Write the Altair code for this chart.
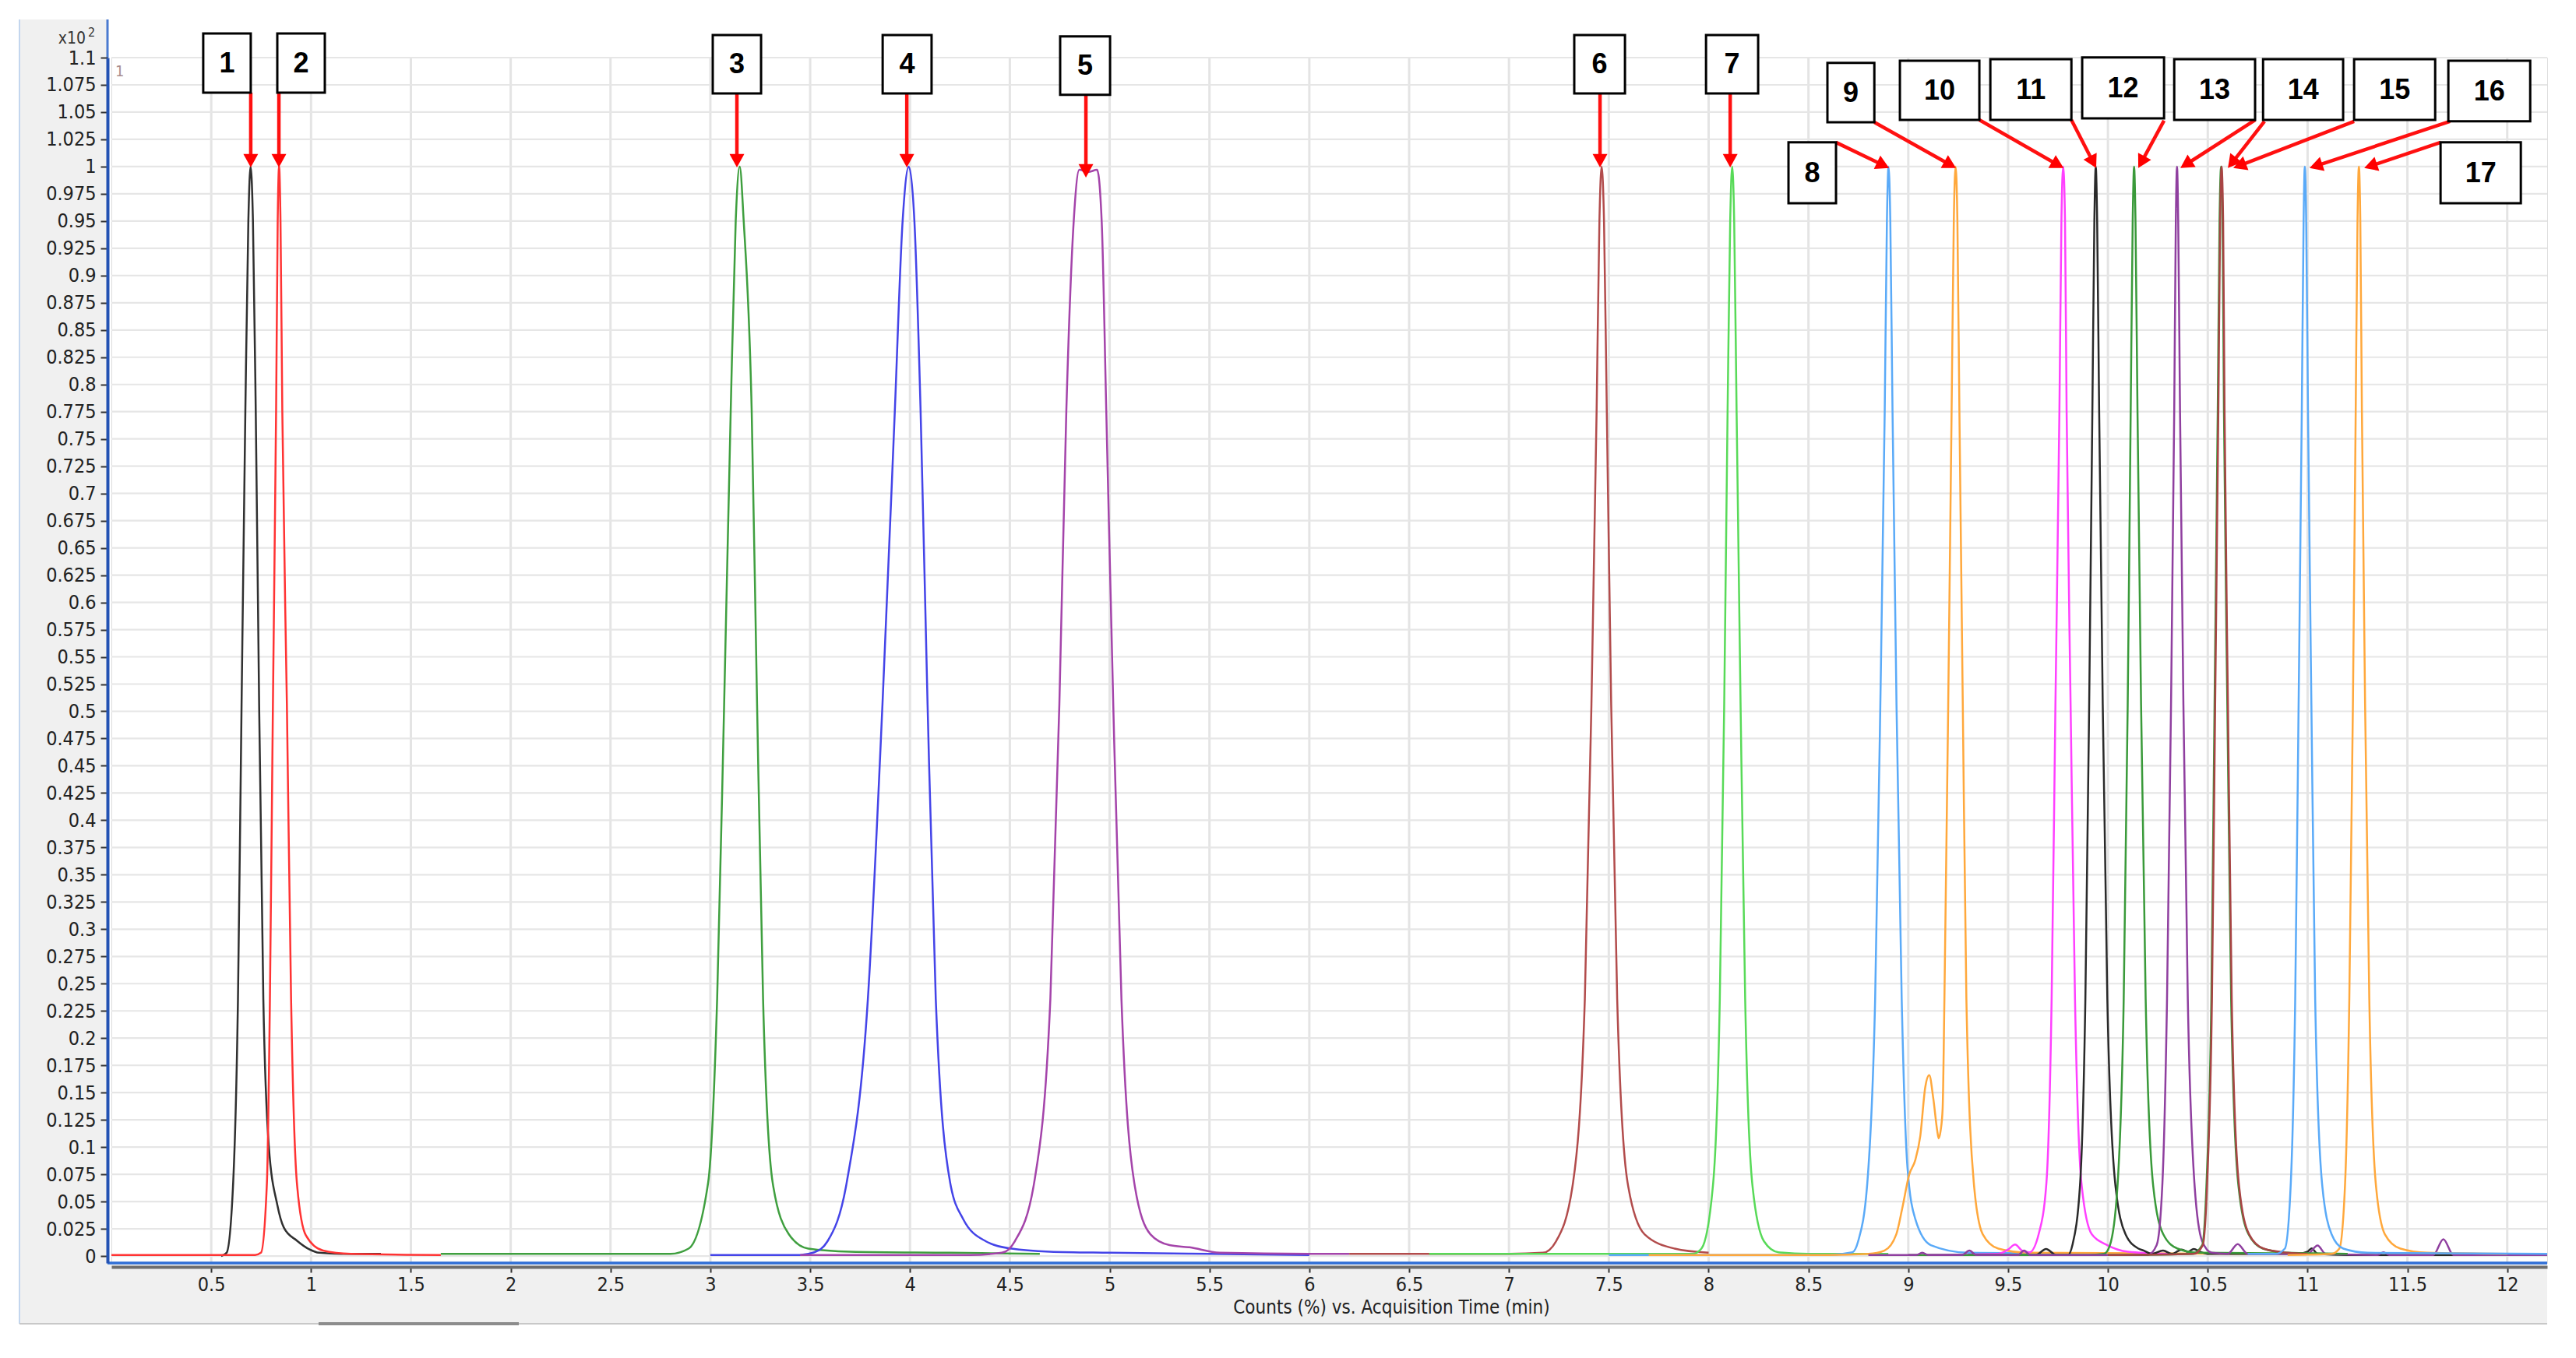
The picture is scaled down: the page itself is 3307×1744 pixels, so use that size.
import math
import altair as alt
import pandas as pd

# ---------------- data ----------------
TRACE_NAMES = ["1", "2", "3", "4", "5", "6", "7", "8", "9", "10", "11", "12", "13", "14", "15", "17", "16"]
TRACE_COLORS = ["#303030", "#ff3333", "#3f9f3f", "#4444e8", "#a444aa", "#b24c4c", "#58da58", "#5aaaf8",
                "#ffa83c", "#ff40ff", "#2a2a2a", "#3a9a3a", "#8f3f9f", "#3a963a", "#a84444", "#ffa83c", "#5aaaf8"]

T1 = [0.55, 0.577, 0.610, 0.634, 0.652, 0.671, 0.686, 0.697, 0.709, 0.723, 0.740, 0.761, 0.788, 0.831, 0.864, 0.93, 0.993, 1.04, 1.15, 1.35]
V1 = [0.0, 0.003, 0.0675, 0.236, 0.506, 0.776, 0.95, 1.0, 0.95, 0.776, 0.506, 0.236, 0.102, 0.047, 0.026, 0.014, 0.006, 0.003, 0.002, 0.002]

T2 = [0.0, 0.72, 0.749, 0.779, 0.794, 0.809, 0.825, 0.833, 0.840, 0.847, 0.856, 0.879, 0.900, 0.929, 0.974, 1.06, 1.2, 1.65]
V2 = [0.001, 0.001, 0.003, 0.0675, 0.236, 0.506, 0.776, 0.95, 1.0, 0.95, 0.776, 0.506, 0.236, 0.0675, 0.019, 0.005, 0.002, 0.001]

T3 = [1.65, 2.4, 2.8, 2.891, 2.989, 3.034, 3.069, 3.102, 3.127, 3.147, 3.167, 3.207, 3.234, 3.264, 3.312, 3.393, 3.49, 3.7, 4.2, 4.65]
V3 = [0.002, 0.002, 0.002, 0.0068, 0.0675, 0.236, 0.506, 0.776, 0.95, 1.0, 0.95, 0.776, 0.506, 0.236, 0.0675, 0.020, 0.0068, 0.004, 0.003, 0.002]

T4 = [3.0, 3.45, 3.52, 3.587, 3.683, 3.789, 3.862, 3.924, 3.963, 3.994, 4.022, 4.053, 4.088, 4.129, 4.201, 4.266, 4.379, 4.509, 4.7, 5.0, 5.5, 6.0]
V4 = [0.001, 0.001, 0.0034, 0.0136, 0.0675, 0.236, 0.506, 0.776, 0.95, 1.0, 0.95, 0.776, 0.506, 0.236, 0.0675, 0.034, 0.0136, 0.0068, 0.004, 0.003, 0.002, 0.001]

T5 = [3.45, 4.3, 4.46, 4.525, 4.622, 4.703, 4.748, 4.783, 4.82, 4.848, 4.892, 4.937, 4.96, 4.983, 5.018, 5.059, 5.123, 5.204, 5.30, 5.40, 5.55, 6.0, 6.2]
V5 = [0.001, 0.001, 0.003, 0.0136, 0.0675, 0.236, 0.506, 0.776, 0.95, 0.997, 0.995, 0.997, 0.95, 0.776, 0.506, 0.236, 0.0675, 0.020, 0.010, 0.008, 0.003, 0.002, 0.002]

T6 = [6.2, 7.0, 7.17, 7.236, 7.321, 7.380, 7.413, 7.439, 7.453, 7.464, 7.476, 7.490, 7.512, 7.542, 7.594, 7.679, 7.83, 8.0]
V6 = [0.002, 0.002, 0.003, 0.0136, 0.0675, 0.236, 0.506, 0.776, 0.95, 1.0, 0.95, 0.776, 0.506, 0.236, 0.0675, 0.020, 0.0068, 0.003]

T7 = [6.6, 7.8, 7.92, 7.964, 8.023, 8.056, 8.078, 8.095, 8.108, 8.118, 8.128, 8.140, 8.160, 8.183, 8.218, 8.277, 8.35, 8.5, 8.9]
V7 = [0.002, 0.002, 0.002, 0.0068, 0.0675, 0.236, 0.506, 0.776, 0.95, 1.0, 0.95, 0.776, 0.506, 0.236, 0.0675, 0.0136, 0.0034, 0.002, 0.002]

T8 = [7.5, 8.6, 8.72, 8.749, 8.795, 8.834, 8.860, 8.882, 8.893, 8.901, 8.910, 8.921, 8.941, 8.967, 8.996, 9.035, 9.113, 9.3, 10.0]
V8 = [0.001, 0.001, 0.0034, 0.0136, 0.0675, 0.236, 0.506, 0.776, 0.95, 1.0, 0.95, 0.776, 0.506, 0.236, 0.081, 0.034, 0.010, 0.003, 0.002]

T9 = [7.7, 8.6, 8.80, 8.88, 8.94, 8.97, 9.005, 9.035, 9.06, 9.085, 9.105, 9.125, 9.145, 9.152, 9.162, 9.172, 9.181,
      9.200, 9.217, 9.228, 9.237, 9.246, 9.256, 9.273, 9.291, 9.328, 9.373, 9.451, 9.6, 10.7]
V9 = [0.001, 0.001, 0.002, 0.005, 0.020, 0.044, 0.075, 0.088, 0.11, 0.155, 0.166, 0.145, 0.115, 0.108, 0.115, 0.135, 0.236,
      0.506, 0.776, 0.95, 1.0, 0.95, 0.776, 0.506, 0.236, 0.0675, 0.020, 0.0068, 0.003, 0.002]

T10 = [9.0, 9.45, 9.5, 9.535, 9.57, 9.607, 9.653, 9.692, 9.718, 9.737, 9.757, 9.767, 9.776, 9.785, 9.793, 9.813, 9.835, 9.867, 9.919, 9.997, 10.1, 10.3]
V10 = [0.001, 0.002, 0.006, 0.0105, 0.005, 0.0034, 0.020, 0.0675, 0.236, 0.506, 0.776, 0.95, 1.0, 0.95, 0.776, 0.506, 0.236, 0.0675, 0.020, 0.010, 0.004, 0.002]

T11 = [9.3, 9.64, 9.69, 9.74, 9.80, 9.822, 9.861, 9.887, 9.906, 9.922, 9.932, 9.939, 9.946, 9.956, 9.974, 9.997, 10.036, 10.088,
       10.153, 10.18, 10.22, 10.276, 10.32, 10.37, 10.40, 10.43, 10.46, 10.5, 10.95, 11.0, 11.02, 11.05, 11.2, 12.2]
V11 = [0.001, 0.001, 0.0065, 0.001, 0.001, 0.010, 0.0675, 0.236, 0.506, 0.776, 0.95, 1.0, 0.95, 0.776, 0.506, 0.236, 0.0675, 0.020,
       0.0068, 0.005, 0.002, 0.005, 0.002, 0.006, 0.004, 0.0065, 0.004, 0.002, 0.002, 0.004, 0.007, 0.002, 0.001, 0.001]

T12 = [9.0, 9.9, 9.98, 10.010, 10.049, 10.079, 10.099, 10.114, 10.124, 10.131, 10.138, 10.148, 10.166, 10.189, 10.225, 10.277, 10.349, 10.45, 11.2]
V12 = [0.001, 0.001, 0.002, 0.010, 0.0675, 0.236, 0.506, 0.776, 0.95, 1.0, 0.95, 0.776, 0.506, 0.236, 0.0675, 0.020, 0.0068, 0.003, 0.002]

T13 = [8.8, 9.04, 9.07, 9.10, 9.27, 9.306, 9.34, 9.55, 9.58, 9.61, 10.2, 10.244, 10.273, 10.296, 10.316, 10.332, 10.340, 10.346,
       10.352, 10.361, 10.378, 10.400, 10.433, 10.472, 10.52, 10.6, 10.65, 10.70, 11.0, 11.05, 11.09, 11.35, 11.38, 11.41, 11.63, 11.68, 11.73, 12.2]
V13 = [0.001, 0.001, 0.003, 0.001, 0.001, 0.005, 0.001, 0.001, 0.005, 0.001, 0.001, 0.010, 0.0675, 0.236, 0.506, 0.776, 0.95, 1.0,
       0.95, 0.776, 0.506, 0.236, 0.0675, 0.0136, 0.003, 0.002, 0.011, 0.002, 0.002, 0.0096, 0.002, 0.001, 0.0034, 0.001, 0.001, 0.0154, 0.001, 0.001]

T14 = [10.0, 10.42, 10.472, 10.494, 10.518, 10.534, 10.550, 10.559, 10.567, 10.574, 10.581, 10.598, 10.617, 10.652, 10.704, 10.776, 10.9, 11.2]
V14 = [0.001, 0.002, 0.010, 0.0675, 0.236, 0.506, 0.776, 0.95, 1.0, 0.95, 0.776, 0.506, 0.236, 0.0675, 0.020, 0.0068, 0.003, 0.002]

T15 = [10.0, 10.43, 10.475, 10.497, 10.521, 10.537, 10.553, 10.562, 10.569, 10.577, 10.584, 10.601, 10.620, 10.655, 10.707, 10.78, 10.9, 11.0]
V15 = [0.001, 0.002, 0.010, 0.0675, 0.236, 0.506, 0.776, 0.95, 1.0, 0.95, 0.776, 0.506, 0.236, 0.0675, 0.020, 0.0068, 0.003, 0.002]

T16 = [10.7, 10.84, 10.886, 10.916, 10.938, 10.955, 10.971, 10.980, 10.986, 10.993, 11.002, 11.019, 11.038, 11.072, 11.120, 11.179, 11.3, 12.2]
V16 = [0.002, 0.002, 0.0068, 0.0675, 0.236, 0.506, 0.776, 0.95, 1.0, 0.95, 0.776, 0.506, 0.236, 0.0675, 0.020, 0.0068, 0.003, 0.002]

T17 = [10.9, 11.12, 11.159, 11.188, 11.209, 11.227, 11.241, 11.250, 11.257, 11.264, 11.272, 11.288, 11.309, 11.341, 11.387, 11.465, 11.6, 12.0]
V17 = [0.001, 0.002, 0.0068, 0.0675, 0.236, 0.506, 0.776, 0.95, 1.0, 0.95, 0.776, 0.506, 0.236, 0.0675, 0.020, 0.0068, 0.003, 0.002]

TRACES = {"1": (T1, V1), "2": (T2, V2), "3": (T3, V3), "4": (T4, V4), "5": (T5, V5), "6": (T6, V6),
          "7": (T7, V7), "8": (T8, V8), "9": (T9, V9), "10": (T10, V10), "11": (T11, V11), "12": (T12, V12),
          "13": (T13, V13), "14": (T14, V14), "15": (T15, V15), "16": (T16, V16), "17": (T17, V17)}

X_TICKS = [0.5, 1, 1.5, 2, 2.5, 3, 3.5, 4, 4.5, 5, 5.5, 6, 6.5, 7, 7.5, 8, 8.5, 9, 9.5, 10, 10.5, 11, 11.5, 12]
Y_TICKS = [0, 0.025, 0.05, 0.075, 0.1, 0.125, 0.15, 0.175, 0.2, 0.225, 0.25, 0.275, 0.3, 0.325, 0.35, 0.375,
           0.4, 0.425, 0.45, 0.475, 0.5, 0.525, 0.55, 0.575, 0.6, 0.625, 0.65, 0.675, 0.7, 0.725, 0.75, 0.775,
           0.8, 0.825, 0.85, 0.875, 0.9, 0.925, 0.95, 0.975, 1, 1.025, 1.05, 1.075, 1.1]

# peak label annotations (in data units: time, counts x10^2)
ANN_LABEL = ["1", "2", "3", "4", "5", "6", "7", "8", "9", "10", "11", "12", "13", "14", "15", "16", "17"]
BOX_T1 = [0.460, 0.831, 3.012, 3.863, 4.752, 7.327, 7.987, 8.400, 8.595, 8.958, 9.411, 9.871, 10.332, 10.777, 11.233, 11.705, 11.666]
BOX_T2 = [0.698, 1.069, 3.254, 4.108, 5.002, 7.581, 8.248, 8.638, 8.830, 9.356, 9.817, 10.281, 10.737, 11.178, 11.639, 12.115, 12.068]
BOX_V1 = [1.0679, 1.0679, 1.0672, 1.0672, 1.0658, 1.0672, 1.0672, 0.9664, 1.0407, 1.0428, 1.0428, 1.0443, 1.0428, 1.0428, 1.0428, 1.0415, 0.9664]
BOX_V2 = [1.1222, 1.1222, 1.1208, 1.1208, 1.1194, 1.1208, 1.1208, 1.0222, 1.0951, 1.0972, 1.0986, 1.1001, 1.0986, 1.0986, 1.0986, 1.0972, 1.0222]
ARR_T0 = [0.698, 0.839, 3.133, 3.984, 4.881, 7.456, 8.108, 8.638, 8.830, 9.356, 9.817, 10.281, 10.737, 10.784, 11.233, 11.713, 11.666]
ARR_V0 = [1.0679, 1.0679, 1.0672, 1.0672, 1.0658, 1.0672, 1.0672, 1.0222, 1.0407, 1.0428, 1.0428, 1.0422, 1.0428, 1.0415, 1.0415, 1.0415, 1.0222]
ARR_T1 = [0.698, 0.839, 3.133, 3.984, 4.881, 7.456, 8.108, 8.904, 9.239, 9.778, 9.941, 10.152, 10.363, 10.601, 10.628, 11.010, 11.284]
ARR_V1 = [0.9993, 0.9993, 0.9993, 0.9993, 0.990, 0.9993, 0.9993, 0.9986, 0.9986, 0.9986, 0.9986, 0.9986, 0.9986, 0.9986, 0.9986, 0.9986, 0.9986]

# ---------------- layout ----------------
W, H = 3127, 1548
X_MIN, X_MAX = 0.0, 12.2
Y_MIN, Y_MAX = -0.0064, 1.1
PX_T = W / (X_MAX - X_MIN)
PX_V = H / (Y_MAX - Y_MIN)
NARROW = "Liberation Sans Narrow, Arial Narrow, DejaVu Sans Condensed, sans-serif"
BOLD = "Liberation Sans, Arial, sans-serif"

X_SCALE = alt.Scale(domain=[X_MIN, X_MAX], nice=False, zero=False)
Y_SCALE = alt.Scale(domain=[Y_MIN, Y_MAX], nice=False, zero=False)

X_AXIS = alt.Axis(values=X_TICKS, format=".1~f", grid=False, domainColor="#6e6e6e", domainWidth=4, offset=5,
                  tickColor="#333333", tickWidth=2, tickSize=7, labelFont=NARROW, labelFontSize=25,
                  labelColor="#222222", labelPadding=3, labelFlush=False, labelOverlap=False,
                  title="Counts (%) vs. Acquisition Time (min)", titleFont=NARROW, titleFontSize=24,
                  titleFontWeight="normal", titleColor="#222222", titleX=1643, titleY=52,
                  titleAlign="center", titleBaseline="middle", zindex=1)
Y_AXIS = alt.Axis(values=Y_TICKS, format=".3~f", grid=False, domainColor="#2352b3", domainWidth=4, offset=5,
                  tickColor="#333333", tickWidth=2, tickSize=9, labelFont=NARROW, labelFontSize=25,
                  labelColor="#222222", labelPadding=6, labelFlush=False, labelOverlap=False,
                  title=None, zindex=1)


def X(field):
    return alt.X(field, type="quantitative", scale=X_SCALE, axis=X_AXIS)


def Y(field):
    return alt.Y(field, type="quantitative", scale=Y_SCALE, axis=Y_AXIS)


rows = []
for name in TRACE_NAMES:
    ts, vs = TRACES[name]
    for t, v in zip(ts, vs):
        rows.append({"trace": name, "t": t, "v": v})
df = pd.DataFrame(rows)

one = pd.DataFrame({"k": [0]})

# background panels (gray axis areas of the instrument software)
panel_left = alt.Chart(one).mark_rect(color="#f0f0f0").encode(
    x=alt.value(-118), x2=alt.value(-4), y=alt.value(-49), y2=alt.value(1626))
panel_bottom = alt.Chart(one).mark_rect(color="#f0f0f0").encode(
    x=alt.value(-118), x2=alt.value(W), y=alt.value(H), y2=alt.value(1626))
frame_left = alt.Chart(one).mark_rule(color="#c3d6ee", strokeWidth=2).encode(
    x=alt.value(-118), y=alt.value(-49), y2=alt.value(1626))
frame_bottom = alt.Chart(one).mark_rule(color="#c8c8c8", strokeWidth=2).encode(
    x=alt.value(-118), x2=alt.value(W), y=alt.value(1626))
scroll = alt.Chart(one).mark_rule(color="#8c8c8c", strokeWidth=4).encode(
    x=alt.value(266), x2=alt.value(523), y=alt.value(1626))
yline_top = alt.Chart(one).mark_rule(color="#4a7ad0", strokeWidth=3).encode(
    x=alt.value(-5), y=alt.value(-49), y2=alt.value(0))

grid_x = alt.Chart(pd.DataFrame({"t": X_TICKS})).mark_rule(color="#e4e4e4", strokeWidth=3).encode(
    x=X("t"), y=alt.value(0), y2=alt.value(H))
grid_y = alt.Chart(pd.DataFrame({"v": Y_TICKS})).mark_rule(color="#e6e6e6", strokeWidth=2.2).encode(
    y=Y("v"), x=alt.value(0), x2=alt.value(W))

lines = alt.Chart(df).mark_line(interpolate="monotone", strokeWidth=2.5).encode(
    x=X("t"),
    y=Y("v"),
    color=alt.Color("trace:N", scale=alt.Scale(domain=TRACE_NAMES, range=TRACE_COLORS), legend=None,
                    sort=TRACE_NAMES),
)

xline_blue = alt.Chart(one).mark_rule(color="#2f6fd6", strokeWidth=3.5).encode(
    x=alt.value(-5), x2=alt.value(W), y=alt.value(H))

# annotations
HEAD_LEN = 15
arr_rows = []
for i, lab in enumerate(ANN_LABEL):
    dx = (ARR_T1[i] - ARR_T0[i]) * PX_T
    dy = -(ARR_V1[i] - ARR_V0[i]) * PX_V
    L = math.hypot(dx, dy)
    ux, uy = dx / L, dy / L
    arr_rows.append({
        "lab": lab,
        "t0": ARR_T0[i], "v0": ARR_V0[i],
        "te": ARR_T1[i] - ux * HEAD_LEN / PX_T, "ve": ARR_V1[i] + uy * HEAD_LEN / PX_V,
        "t1": ARR_T1[i], "v1": ARR_V1[i],
        "ang": math.degrees(math.atan2(-ux, uy)) % 360,
        "bt1": BOX_T1[i], "bt2": BOX_T2[i], "bv1": BOX_V1[i], "bv2": BOX_V2[i],
        "tc": (BOX_T1[i] + BOX_T2[i]) / 2, "vc": (BOX_V1[i] + BOX_V2[i]) / 2,
    })
adf = pd.DataFrame(arr_rows)

arrow_lines = alt.Chart(adf).mark_rule(color="#ff1010", strokeWidth=4.5).encode(
    x=X("t0"), y=Y("v0"), x2="te:Q", y2="ve:Q")
arrow_heads = alt.Chart(adf).mark_point(shape="M0,0L-1,-1.8L1,-1.8Z", filled=True, color="#ff0000",
                                        opacity=1, size=361, strokeWidth=0).encode(
    x=X("t1"), y=Y("v1"), angle=alt.Angle("ang:Q", scale=None))
boxes = alt.Chart(adf).mark_rect(fill="white", stroke="black", strokeWidth=3).encode(
    x=X("bt1"), x2="bt2:Q", y=Y("bv1"), y2="bv2:Q")
box_text = alt.Chart(adf).mark_text(font=BOLD, fontSize=36, fontWeight="bold", color="black",
                                    align="center", baseline="middle", dy=1).encode(
    x=X("tc"), y=Y("vc"), text="lab:N")

mult = alt.Chart(one).mark_text(text="x10", font=NARROW, fontSize=21, color="#333333", align="right",
                                baseline="alphabetic").encode(x=alt.value(-33), y=alt.value(-18))
mult_exp = alt.Chart(one).mark_text(text="2", font=NARROW, fontSize=16, color="#333333", align="left",
                                    baseline="alphabetic").encode(x=alt.value(-30), y=alt.value(-27))
small_one = alt.Chart(one).mark_text(text="1", font=NARROW, fontSize=20, color="#a88c8c", align="left",
                                     baseline="alphabetic").encode(x=alt.value(5), y=alt.value(24))

chart = alt.layer(
    panel_left, panel_bottom, frame_left, frame_bottom, scroll, yline_top,
    grid_x, grid_y, lines, xline_blue,
    arrow_lines, arrow_heads, boxes, box_text,
    mult, mult_exp, small_one,
).properties(
    width=W, height=H,
    padding={"left": 135, "top": 66, "right": 20, "bottom": 108},
    autosize=alt.AutoSizeParams(type="none"),
).configure_view(strokeWidth=0).configure(background="white")

chart.save("out.html", embed_options={"renderer": "svg", "actions": False})
